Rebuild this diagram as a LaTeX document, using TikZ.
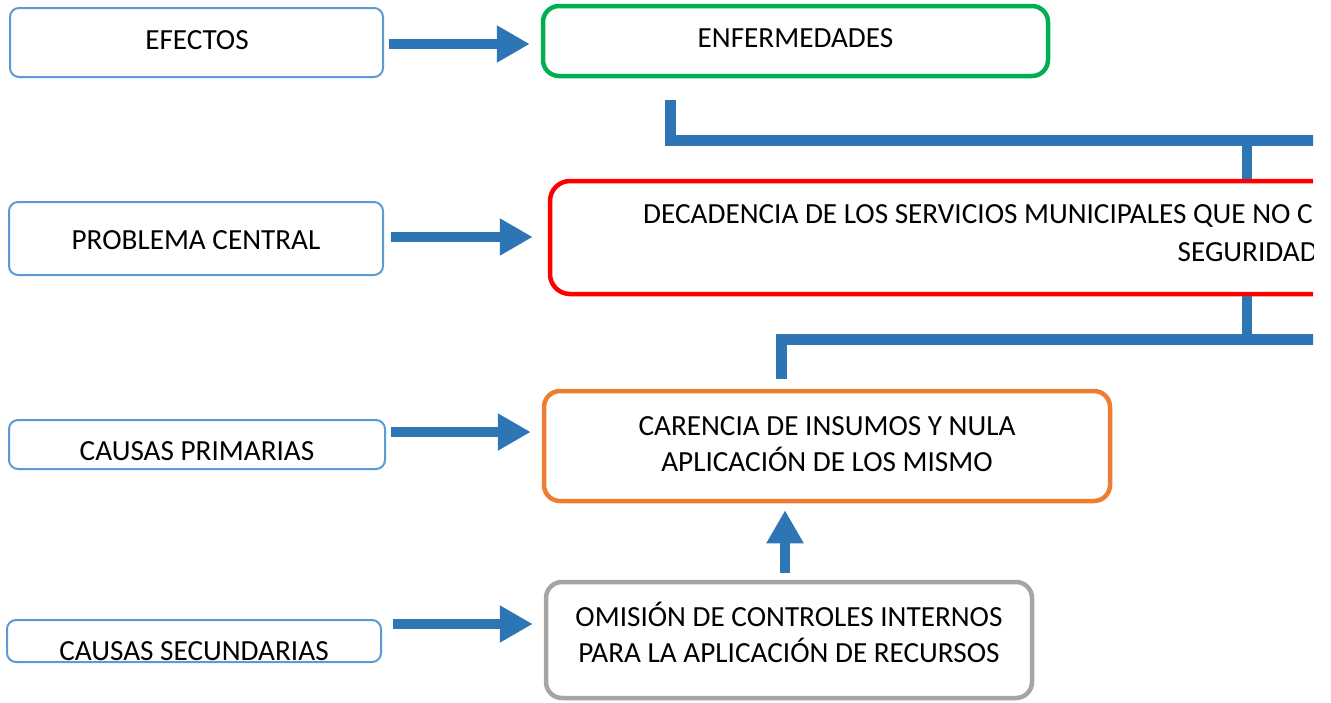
\documentclass[tikz,border=0pt]{standalone}
\usepackage{fontspec}
\setmainfont{Carlito}
\usetikzlibrary{arrows.meta,calc}
\definecolor{lblue}{HTML}{5B9BD5}
\definecolor{ablue}{HTML}{2E75B6}
\definecolor{cgreen}{HTML}{00B050}
\definecolor{cred}{HTML}{FF0000}
\definecolor{corange}{HTML}{ED7D31}
\definecolor{cgray}{HTML}{A5A5A5}
\begin{document}
\begin{tikzpicture}[x=1pt,y=-1pt,
 every node/.style={font=\fontsize{29.2}{36}\selectfont, inner sep=0pt, text=black},
 lbox/.style={draw=lblue, line width=2pt, rounded corners=9pt, fill=white},
 rbox/.style={line width=4.5pt, rounded corners=16pt, fill=white},
 bigarrow/.style={draw=ablue, line width=10pt, -{Triangle[length=33pt,width=35pt]}},
 conn/.style={draw=ablue, line width=11pt}]
\useasboundingbox (0,0) rectangle (1331,702);
\clip (0,0) rectangle (1313,702);
% connectors (behind boxes)
\coordinate (rt1) at (1331,140);
\coordinate (tap1) at (1247,140);
\coordinate (rt2) at (1331,339);
\coordinate (tap2) at (1247,339);
% left boxes
\node[lbox, minimum width=373pt, minimum height=69pt] (efectos) at (196.5,42.5) {};
\node (efectost) at (197,40) {EFECTOS};
\node[lbox, minimum width=374pt, minimum height=73pt] (problema) at (196,238.5) {};
\node (problemat) at (196,240) {PROBLEMA CENTRAL};
\node[lbox, minimum width=376pt, minimum height=49pt] (prim) at (197,444.5) {};
\node (primt) at (197,451) {CAUSAS PRIMARIAS};
\node[lbox, minimum width=374pt, minimum height=42pt] (sec) at (194,641) {};
\node (sect) at (194,651) {CAUSAS SECUNDARIAS};
% right boxes
\node[rbox, draw=cgreen, minimum width=505pt, minimum height=70pt] (enf) at (795.5,41) {};
\node (enft) at (795.5,38) {ENFERMEDADES};
\node[rbox, draw=cred, rounded corners=20pt, minimum width=850pt, minimum height=113pt] (red) at (975,237.5) {};
\node[anchor=west] (redt1) at (643,216) {DECADENCIA DE LOS SERVICIOS MUNICIPALES QUE NO C};
\node[anchor=east] (redt2) at (1318,252) {SEGURIDAD};
\node[rbox, draw=corange, minimum width=566pt, minimum height=110pt] (orange) at (827,446) {};
\node[align=center] (oranget) at (827,444) {CARENCIA DE INSUMOS Y NULA\\APLICACIÓN DE LOS MISMO};
\node[rbox, draw=cgray, minimum width=486pt, minimum height=116pt] (gray) at (789,640) {};
\node[align=center] (grayt) at (789,632) {OMISIÓN DE CONTROLES INTERNOS\\PARA LA APLICACIÓN DE RECURSOS};
% tree connectors
\draw[conn] ([xshift=-125.5pt,yshift=-22pt]enf.south) |- (rt1);
\draw[conn, line width=10pt] (tap1) -- (tap1 |- red.north);
\draw[conn, line width=10pt] (tap2 |- red.south) -- (tap2);
\draw[conn, shorten >=10pt] (rt2) -| ([xshift=-46pt]orange.north);
% arrows
\draw[bigarrow, shorten <=5pt, shorten >=11pt] ([yshift=-1.5pt]efectos.east) -- ([yshift=-1.5pt]efectos.east -| enf.west);
\draw[bigarrow, shorten <=7pt, shorten >=15pt] ([yshift=1.5pt]problema.east) -- ([yshift=1.5pt]problema.east -| red.west);
\draw[bigarrow, shorten <=5pt, shorten >=11pt] ([yshift=12.5pt]prim.east) -- ([yshift=12.5pt]prim.east -| orange.west);
\draw[bigarrow, shorten <=11pt, shorten >=11pt] ([yshift=17pt]sec.east) -- ([yshift=17pt]sec.east -| gray.west);
\draw[bigarrow, shorten <=7pt, shorten >=7pt] ([xshift=-4pt]gray.north) -- ([xshift=-4pt]gray.north |- orange.south);
\end{tikzpicture}
\end{document}
